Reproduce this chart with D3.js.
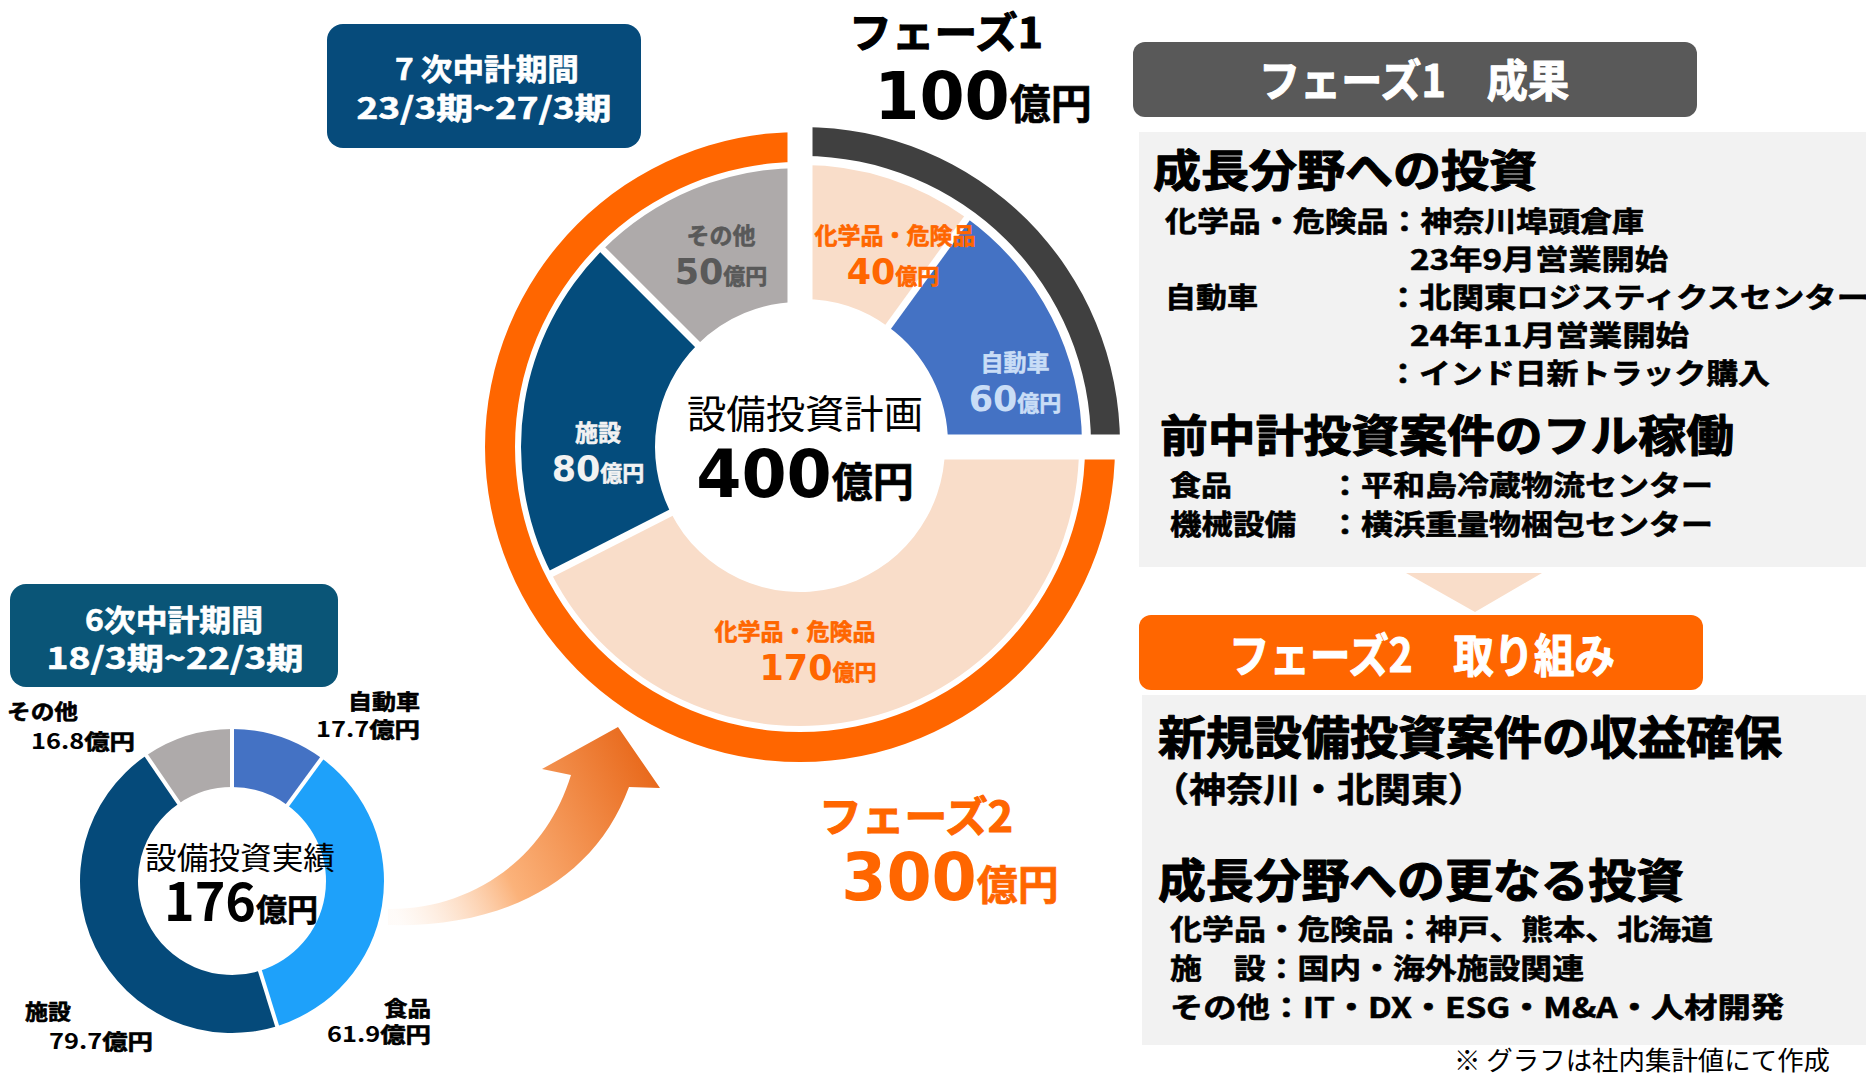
<!DOCTYPE html>
<html><head><meta charset="utf-8">
<script src="https://cdn.jsdelivr.net/npm/d3@7"></script>
<style>
html,body{margin:0;padding:0;background:#fff;overflow:hidden}
svg{display:block}
text{font-family:"Noto Sans CJK JP","Noto Sans",sans-serif}
</style></head><body>
<svg id="chart" width="1866" height="1074"></svg>
<script>
// ---------------- data ----------------
const planCategories = ["化学品・危険品","自動車","化学品・危険品","施設","その他"];
const planValues = [40,60,170,80,50];
const planPhase = [1,1,2,2,2];
const phaseLabels = ["フェーズ1","フェーズ2"];
const phaseValues = [100,300];
const planTitle = "設備投資計画";
const planTotal = 400;
const actualCategories = ["自動車","食品","施設","その他"];
const actualValues = [17.7,61.9,79.7,16.8];
const actualTitle = "設備投資実績";
const actualTotal = 176;
const unit = "億円";
const periodPlan = ["7 次中計期間","23/3期~27/3期"];
const periodActual = ["6次中計期間","18/3期~22/3期"];
const phase1Header = "フェーズ1　成果";
const phase1Lines = ["成長分野への投資","化学品・危険品：神奈川埠頭倉庫","23年9月営業開始","自動車","：北関東ロジスティクスセンター","24年11月営業開始","：インド日新トラック購入","前中計投資案件のフル稼働","食品","：平和島冷蔵物流センター","機械設備","：横浜重量物梱包センター"];
const phase2Header = "フェーズ2　取り組み";
const phase2Lines = ["新規設備投資案件の収益確保","（神奈川・北関東）","成長分野への更なる投資","化学品・危険品：神戸、熊本、北海道","施　設：国内・海外施設関連","その他：IT・DX・ESG・M&A・人材開発"];
const footnote = "※ グラフは社内集計値にて作成";

// ---------------- styles ----------------
const planColors = ["#F9DDC9","#4472C4","#F9DDC9","#044C7C","#AEAAAA"];
const planLabelColors = ["#FF6600","#C9DDF6","#FF6600","#F2F2F2","#595959"];
const phaseColors = ["#404040","#FF6600"];
const phaseTextColors = ["#000000","#FF6600"];
const actualColors = ["#4472C4","#1EA1FA","#054A7A","#AEAAAA"];
const CJK = '"Noto Sans CJK JP","Noto Sans",sans-serif';
const NUM = '"DejaVu Sans",Verdana,sans-serif';

const svg = d3.select("#chart");
const defs = svg.append("defs");
const grad = defs.append("linearGradient").attr("id","arrowGrad")
  .attr("gradientUnits","userSpaceOnUse").attr("x1",388).attr("y1",900).attr("x2",655).attr("y2",770);
grad.append("stop").attr("offset",0).attr("stop-color","#FDE6D4").attr("stop-opacity",0.15);
grad.append("stop").attr("offset",0.4).attr("stop-color","#FBB27A");
grad.append("stop").attr("offset",1).attr("stop-color","#E8681A");

function txt(x,y,str,o){
  o=o||{};
  const w=o.weight||700, fill=o.fill||"#000", size=o.size||20;
  const t=svg.append("text").attr("x",x).attr("y",y).text(str)
    .attr("font-size",size).attr("font-weight",w)
    .attr("fill",fill).attr("text-anchor",o.anchor||"start")
    .style("font-family",o.family||CJK);
  if(w>=700){t.attr("stroke",fill).attr("stroke-width",size>=40?1.1:0.6).attr("stroke-linejoin","round");}
  if(o.len){t.attr("textLength",o.len).attr("lengthAdjust","spacingAndGlyphs");}
  return t;
}
function numLabel(x,y,num,o){
  const t=svg.append("text").attr("x",x).attr("y",y).attr("text-anchor",o.anchor||"middle")
    .attr("fill",o.fill).attr("font-weight",700);
  t.append("tspan").text(num).attr("font-size",o.numSize).style("font-family",o.numFamily||NUM);
  t.append("tspan").text(unit).attr("font-size",o.unitSize).style("font-family",CJK)
    .attr("stroke",o.fill).attr("stroke-width",0.6);
  if(o.len){t.attr("textLength",o.len).attr("lengthAdjust","spacingAndGlyphs");}
  return t;
}

// ---------------- big donut (plan) ----------------
const cx=800, cy=447;
const pieGen=d3.pie().sort(null).value(d=>d);
const planArcs=pieGen(planValues);
const phaseArcs=pieGen(phaseValues);
const pieArc=d3.arc().innerRadius(145).outerRadius(279);
const ringArcs=[d3.arc().innerRadius(288).outerRadius(317),d3.arc().innerRadius(285).outerRadius(315)];
const phaseShift=[[3,-3],[0,0]];
const groups=phaseValues.map((v,p)=>svg.append("g")
  .attr("transform",`translate(${cx+phaseShift[p][0]},${cy+phaseShift[p][1]})`));
planArcs.forEach((a,i)=>groups[planPhase[i]-1].append("path").attr("d",pieArc(a)).attr("fill",planColors[i]));
phaseArcs.forEach((a,p)=>groups[p].append("path").attr("d",ringArcs[p](a)).attr("fill",phaseColors[p]));
const bigSep=svg.append("g").attr("transform",`translate(${cx},${cy})`);
planArcs.forEach((a,i)=>{
  const nx=(i+1)%planArcs.length, ang=a.endAngle;
  if(planPhase[i]===planPhase[nx]){
    groups[planPhase[i]-1].append("line").attr("x1",0).attr("y1",0)
      .attr("x2",283*Math.sin(ang)).attr("y2",-283*Math.cos(ang))
      .attr("stroke","#fff").attr("stroke-width",7);
  } else {
    bigSep.append("line").attr("x1",0).attr("y1",0)
      .attr("x2",345*Math.sin(ang)).attr("y2",-345*Math.cos(ang))
      .attr("stroke","#fff").attr("stroke-width",25);
  }
});

// slice labels (positions are layout)
const planLabelPos=[[895,244,893,284],[1015,371,1015,411],[795,640,818,680],[598,441,598,481],[721,244,721,284]];
planArcs.forEach((a,i)=>{
  const p=planLabelPos[i];
  txt(p[0],p[1],planCategories[i],{size:23,fill:planLabelColors[i],anchor:"middle"});
  numLabel(p[2],p[3],String(planValues[i]),{numSize:35,unitSize:22,fill:planLabelColors[i]});
});
txt(805,428,planTitle,{size:39,weight:400,anchor:"middle",len:236});
numLabel(805,497,String(planTotal),{numSize:65,unitSize:41,fill:"#000"});

// phase labels
const phaseLabelPos=[[946,48,983,119],[916,832,950,900]];
phaseValues.forEach((v,p)=>{
  const q=phaseLabelPos[p];
  txt(q[0],q[1],phaseLabels[p],{size:42,fill:phaseTextColors[p],anchor:"middle",len:194});
  numLabel(q[2],q[3],String(v),{numSize:65,unitSize:41,fill:phaseTextColors[p]});
});

// period box (plan)
svg.append("rect").attr("x",327).attr("y",24).attr("width",314).attr("height",124).attr("rx",16).attr("fill","#064B7B");
txt(487,80,periodPlan[0],{size:30,fill:"#fff",anchor:"middle",len:184});
txt(484,119,periodPlan[1],{size:30,fill:"#fff",anchor:"middle",len:255});

// ---------------- arrow ----------------
svg.append("path")
  .attr("d","M388,909 C470,910 545,860 571,775 L542,769 L618,727 L660,788 L629,787 C595,880 505,928 388,925 Z")
  .attr("fill","url(#arrowGrad)");

// ---------------- small donut (actual) ----------------
const sCx=232, sCy=881;
const actualArcs=pieGen(actualValues);
const sArc=d3.arc().innerRadius(94).outerRadius(152);
const sg=svg.append("g").attr("transform",`translate(${sCx},${sCy})`);
actualArcs.forEach((a,i)=>sg.append("path").attr("d",sArc(a)).attr("fill",actualColors[i]));
actualArcs.forEach(a=>{
  sg.append("line").attr("x1",0).attr("y1",0)
    .attr("x2",156*Math.sin(a.endAngle)).attr("y2",-156*Math.cos(a.endAngle))
    .attr("stroke","#fff").attr("stroke-width",4);
});
svg.append("circle").attr("cx",sCx).attr("cy",sCy).attr("r",93).attr("fill","#fff");
txt(240,869,actualTitle,{size:31,weight:400,anchor:"middle",len:190});
numLabel(241,921,String(actualTotal),{numSize:52,unitSize:31,fill:"#000",numFamily:CJK});

const actualLabelPos=[[420,709,420,737,"end",72],[431,1016,431,1042,"end",47],[25,1019,49,1049,"start",46],[7,719,31,749,"start",71]];
actualArcs.forEach((a,i)=>{
  const p=actualLabelPos[i];
  txt(p[0],p[1],actualCategories[i],{size:21,anchor:p[4],len:p[5]});
  numLabel(p[2],p[3],String(actualValues[i]),{numSize:21,unitSize:21,fill:"#000",anchor:p[4],numFamily:CJK,len:104});
});

// period box (actual)
svg.append("rect").attr("x",10).attr("y",584).attr("width",328).attr("height",103).attr("rx",16).attr("fill","#0A5577");
txt(174,631,periodActual[0],{size:30,fill:"#fff",anchor:"middle",len:178});
txt(175,669,periodActual[1],{size:30,fill:"#fff",anchor:"middle",len:257});

// ---------------- right panel ----------------
svg.append("rect").attr("x",1133).attr("y",42).attr("width",564).attr("height",75).attr("rx",12).attr("fill","#595959");
txt(1414,97,phase1Header,{size:44,fill:"#fff",anchor:"middle",len:310});
svg.append("rect").attr("x",1139).attr("y",132).attr("width",727).attr("height",435).attr("fill","#F2F2F2");
const p1Layout=[
  [1153,187,44,384],[1165,232,28,479],[1410,270,28,258],[1165,308,28,93],[1387,308,28,482],
  [1410,346,28,279],[1387,384,28,383],[1160,452,44,574],[1170,496,28,62],[1329,496,28,384],
  [1170,535,28,126],[1329,535,28,384]];
phase1Lines.forEach((s,i)=>{const l=p1Layout[i];txt(l[0],l[1],s,{size:l[2],len:l[3]});});

svg.append("path").attr("d",d3.line()([[1406,573],[1542,573],[1475,612]])+"Z").attr("fill","#F9DDC9");
svg.append("rect").attr("x",1139).attr("y",615).attr("width",564).attr("height",75).attr("rx",12).attr("fill","#FF6600");
txt(1422,672,phase2Header,{size:46,fill:"#fff",anchor:"middle",len:386});
svg.append("rect").attr("x",1142).attr("y",695).attr("width",724).attr("height",350).attr("fill","#F2F2F2");
const p2Layout=[[1158,754,46,624],[1152,802,34,333],[1158,897,46,526],[1170,940,28,543],[1170,979,28,414],[1170,1018,28,614]];
phase2Lines.forEach((s,i)=>{const l=p2Layout[i];txt(l[0],l[1],s,{size:l[2],len:l[3]});});
txt(1454,1070,footnote,{size:26,weight:400,len:376});
</script>
</body></html>
